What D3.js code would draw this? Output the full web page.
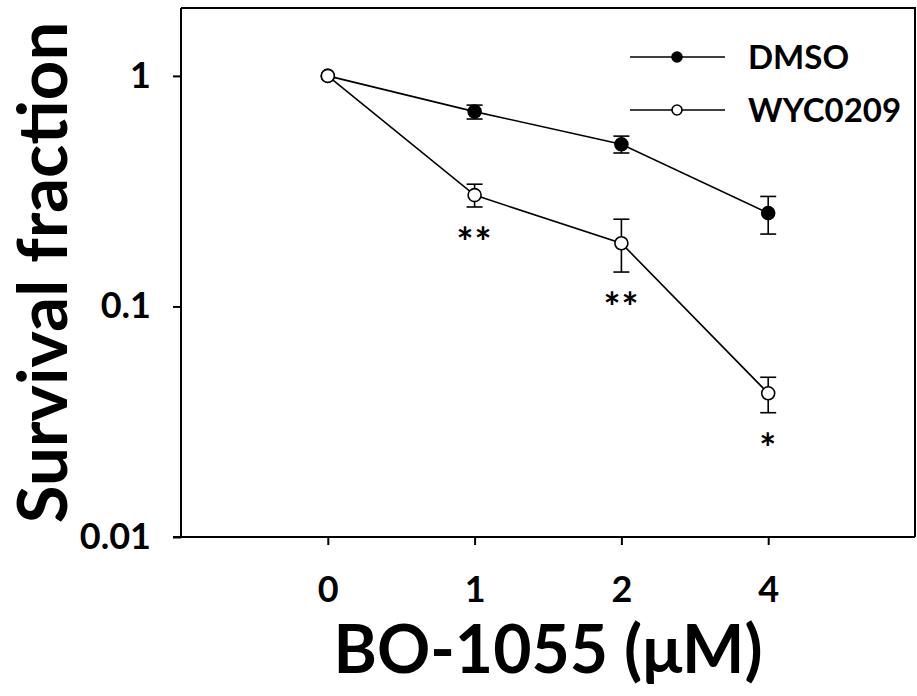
<!DOCTYPE html>
<html>
<head>
<meta charset="utf-8">
<script src="https://cdn.jsdelivr.net/npm/d3@7"></script>
<style>
  body { margin: 0; background: #fff; }
  svg text { font-family: Lato, "Open Sans", "DejaVu Sans", sans-serif; font-weight: 700; fill: #000; }
</style>
</head>
<body>
<svg id="chart" width="917" height="696"></svg>
<script>
// data
const doses = ["0", "1", "2", "4"];
const dmso = [1, 0.70, 0.505, 0.254];
const dmsoLo = [1, 0.65, 0.463, 0.206];
const dmsoHi = [1, 0.747, 0.548, 0.30];
const wyc = [1, 0.304, 0.188, 0.042];
const wycLo = [1, 0.27, 0.141, 0.0346];
const wycHi = [1, 0.339, 0.239, 0.0493];
const sig = ["", "**", "**", "*"];
const yTicks = [0.01, 0.1, 1];
const yTickLabels = ["0.01", "0.1", "1"];
const seriesNames = ["DMSO", "WYC0209"];

const svg = d3.select("#chart");
const pLeft = 181, pRight = 915, pTop = 8, pBottom = 537;

const x = d3.scalePoint().domain(doses).range([pLeft, pRight]).padding(1);
const y = d3.scaleLog().domain([0.01, 1.97]).range([pBottom, pTop]);

// frame (top + right)
svg.append("path")
   .attr("d", `M${pLeft},${pTop}H${pRight}V${pBottom}`)
   .attr("fill", "none").attr("stroke", "#000").attr("stroke-width", 2);

// axes
const yAxis = svg.append("g")
   .attr("transform", `translate(${pLeft},0)`)
   .call(d3.axisLeft(y).tickValues(yTicks).tickSize(8).tickPadding(22)
         .tickFormat((d, i) => yTickLabels[i]));
const xAxis = svg.append("g")
   .attr("transform", `translate(0,${pBottom})`)
   .call(d3.axisBottom(x).tickSize(8).tickPadding(31).tickSizeOuter(0));
[yAxis, xAxis].forEach(g => {
	g.attr("font-family", null).attr("font-size", null);
	g.select(".domain").attr("stroke-width", 2);
	g.selectAll(".tick line").attr("stroke-width", 2);
	g.selectAll("text").attr("font-size", 36);
});
yAxis.select(".domain").attr("d", `M-8,${pBottom}H0V${pTop}`);
xAxis.select(".domain").attr("d", `M${pLeft - 8},0H${pRight}`);

const series = [
	{ name: seriesNames[0], v: dmso, lo: dmsoLo, hi: dmsoHi, fill: "#000" },
	{ name: seriesNames[1], v: wyc, lo: wycLo, hi: wycHi, fill: "#fff" }
];
const line = d3.line().x((d, i) => x(doses[i])).y(d => y(d));

series.forEach(s => {
	svg.append("path").datum(s.v)
	   .attr("d", line).attr("fill", "none")
	   .attr("stroke", "#000").attr("stroke-width", 1.6);
});
series.forEach(s => {
	const g = svg.append("g").attr("stroke", "#000").attr("stroke-width", 1.6);
	s.v.forEach((v, i) => {
		if (s.lo[i] === s.hi[i]) return;
		const cx = x(doses[i]);
		g.append("line").attr("x1", cx).attr("x2", cx).attr("y1", y(s.lo[i])).attr("y2", y(s.hi[i]));
		g.append("line").attr("x1", cx - 8).attr("x2", cx + 8).attr("y1", y(s.lo[i])).attr("y2", y(s.lo[i]));
		g.append("line").attr("x1", cx - 8).attr("x2", cx + 8).attr("y1", y(s.hi[i])).attr("y2", y(s.hi[i]));
	});
});
series.forEach(s => {
	svg.append("g").selectAll("circle").data(s.v).join("circle")
	   .attr("cx", (d, i) => x(doses[i])).attr("cy", d => y(d)).attr("r", 6.5)
	   .attr("fill", s.fill).attr("stroke", "#000").attr("stroke-width", 1.6);
});

// significance stars under WYC0209
svg.append("g").selectAll("text").data(sig).join("text")
   .attr("x", (d, i) => x(doses[i]))
   .attr("y", (d, i) => y(wycLo[i]) + 50)
   .attr("text-anchor", "middle").attr("font-size", 40)
   .attr("letter-spacing", 1)
   .text(d => d);

// legend
const leg = svg.append("g");
series.forEach((s, i) => {
	const ly = 57 + i * 53;
	leg.append("line").attr("x1", 630).attr("x2", 725).attr("y1", ly).attr("y2", ly)
	   .attr("stroke", "#000").attr("stroke-width", 1.6);
	leg.append("circle").attr("cx", 677).attr("cy", ly).attr("r", 5)
	   .attr("fill", s.fill).attr("stroke", "#000").attr("stroke-width", 1.6);
	leg.append("text").attr("x", 748).attr("y", ly + 12).attr("font-size", 33).text(s.name);
});

// axis titles
svg.append("text")
   .attr("transform", `translate(67,${(pTop + pBottom) / 2}) rotate(-90)`)
   .attr("text-anchor", "middle").attr("font-size", 69)
   .text("Survival fraction");
svg.append("text")
   .attr("x", (pLeft + pRight) / 2).attr("y", 673)
   .attr("text-anchor", "middle").attr("font-size", 66)
   .text("BO-1055 (μM)");
</script>
</body>
</html>
